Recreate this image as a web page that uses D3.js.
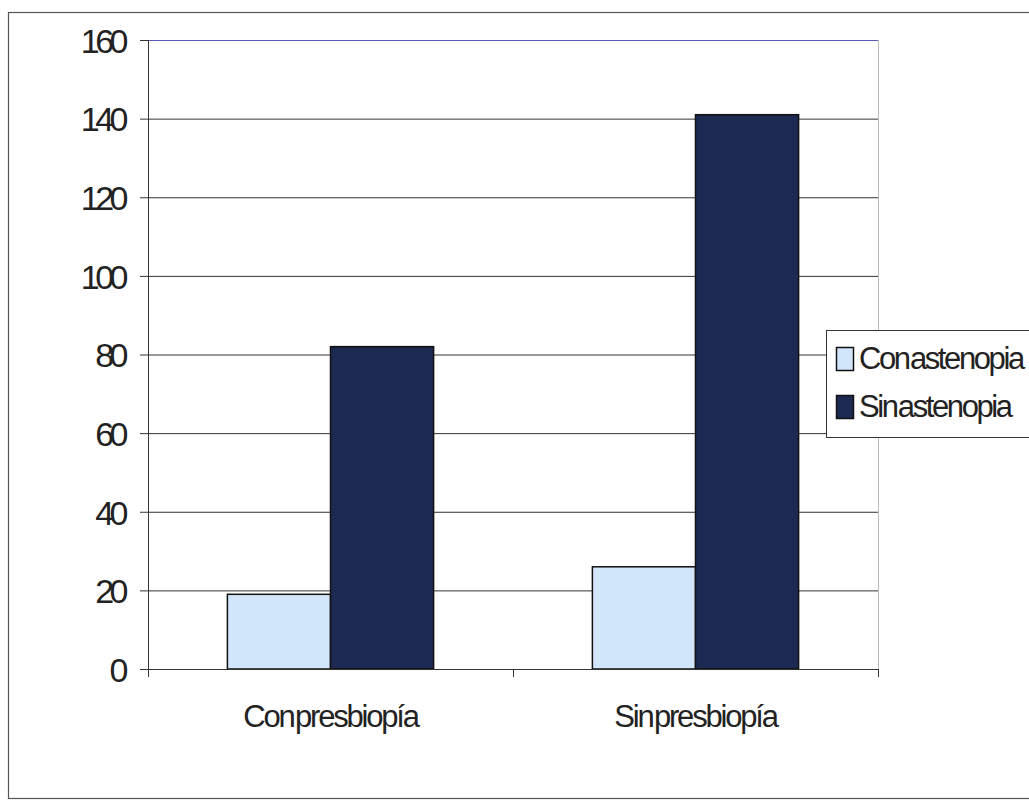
<!DOCTYPE html>
<html>
<head>
<meta charset="utf-8">
<script src="https://cdn.jsdelivr.net/npm/d3@7"></script>
<style>
  html, body { margin: 0; padding: 0; background: #fff; }
  svg { display: block; font-family: "Liberation Sans", Arial, sans-serif; }
</style>
</head>
<body>
<div id="chart"></div>
<script>
// data
const categories = ['Con presbiopía', 'Sin presbiopía']
const seriesNames = ['Con astenopia', 'Sin astenopia']
const conAstenopia = [19, 26]
const sinAstenopia = [82, 141]
const yTicks = [0, 20, 40, 60, 80, 100, 120, 140, 160]
const seriesColors = ['#d2e6fb', '#1c2951']

const W = 1029, H = 802
const plot = { left: 148, right: 878, top: 40, bottom: 669 }
const font = '"Liberation Sans", Arial, sans-serif'

const svg = d3.select('#chart').append('svg').attr('width', W).attr('height', H)

// outer frame
svg.append('rect')
  .attr('x', 8.5).attr('y', 12.5).attr('width', W + 10).attr('height', 786)
  .attr('fill', '#fff').attr('stroke', '#555').attr('stroke-width', 1.2)

const x = d3.scaleBand().domain(categories).range([plot.left, plot.right])
const xs = d3.scaleBand().domain(seriesNames).range([0, x.bandwidth()]).paddingOuter(0.77).paddingInner(0)
const y = d3.scaleLinear().domain([0, 160]).range([plot.bottom, plot.top])

// gridlines
svg.append('g').selectAll('line').data(yTicks.filter(d => d > 0)).join('line')
  .attr('x1', plot.left).attr('x2', plot.right)
  .attr('y1', d => y(d) + 0.5).attr('y2', d => y(d) + 0.5)
  .attr('stroke', d => d === 160 ? '#5a5ab8' : '#333').attr('stroke-width', 1)

// right plot border
svg.append('line')
  .attr('x1', plot.right + 0.5).attr('x2', plot.right + 0.5)
  .attr('y1', plot.top).attr('y2', plot.bottom)
  .attr('stroke', '#bbb')

// bars
const rows = categories.map((c, i) => ({ cat: c, values: [conAstenopia[i], sinAstenopia[i]] }))
const groups = svg.append('g').selectAll('g').data(rows).join('g')
  .attr('transform', d => `translate(${x(d.cat)},0)`)
groups.selectAll('rect').data(d => d.values.map((v, j) => ({ v, s: seriesNames[j], j }))).join('rect')
  .attr('x', d => xs(d.s))
  .attr('width', xs.bandwidth())
  .attr('y', d => y(d.v))
  .attr('height', d => y(0) - y(d.v))
  .attr('fill', d => seriesColors[d.j])
  .attr('stroke', '#111').attr('stroke-width', 1.5)

// y axis
const yAxis = svg.append('g').attr('transform', `translate(${plot.left},0)`)
  .call(d3.axisLeft(y).tickValues(yTicks).tickSize(8).tickPadding(16).tickFormat(d3.format('d')))
yAxis.select('.domain').attr('stroke', '#333')
yAxis.selectAll('.tick line').attr('stroke', '#333')
yAxis.selectAll('text')
  .attr('font-size', 34).attr('fill', '#222').attr('letter-spacing', -4.5)
  .attr('font-family', font).attr('dy', '0.36em')

// x axis
const xAxis = svg.append('g').attr('transform', `translate(0,${plot.bottom})`)
  .call(d3.axisBottom(x).tickSize(0).tickPadding(36))
xAxis.select('.domain').attr('stroke', '#333')
xAxis.selectAll('text')
  .attr('font-size', 31).attr('fill', '#222').attr('letter-spacing', -2.2).attr('word-spacing', -5)
  .attr('font-family', font)
// category separators
svg.append('g').selectAll('line').data([plot.left, x(categories[1]), plot.right]).join('line')
  .attr('x1', d => d + 0.5).attr('x2', d => d + 0.5)
  .attr('y1', plot.bottom).attr('y2', plot.bottom + 8)
  .attr('stroke', '#333')

// legend
const legend = svg.append('g').attr('transform', 'translate(826,330)')
legend.append('rect').attr('x', 0.5).attr('y', 0.5).attr('width', 220).attr('height', 107)
  .attr('fill', '#fff').attr('stroke', '#333')
seriesNames.forEach((name, i) => {
  const row = legend.append('g').attr('transform', `translate(10,${17 + i * 48})`)
  row.append('rect').attr('x', 0.5).attr('y', 0.5).attr('width', 17).attr('height', 23)
    .attr('fill', seriesColors[i]).attr('stroke', '#111').attr('stroke-width', 1.5)
  row.append('text').attr('x', 23).attr('y', 22)
    .attr('font-size', 31).attr('fill', '#222').attr('letter-spacing', -2.4).attr('word-spacing', -5)
    .text(name)
})
</script>
</body>
</html>
